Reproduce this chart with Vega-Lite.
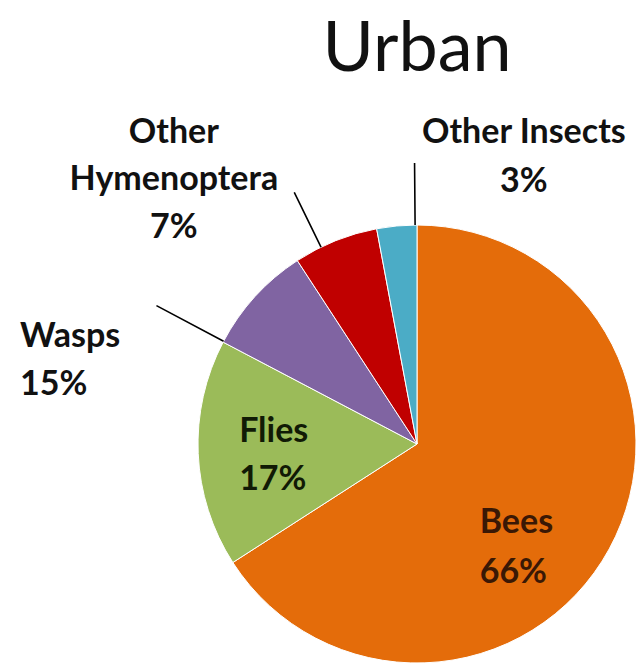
{
  "$schema": "https://vega.github.io/schema/vega-lite/v6.json",
  "width": 438,
  "height": 438,
  "autosize": "none",
  "padding": {"left": 198, "top": 225, "right": 3, "bottom": 7},
  "background": "white",
  "title": {"text": "Urban", "font": "Lato", "fontSize": 70, "fontWeight": "normal", "color": "#111111", "anchor": "middle", "frame": "group", "offset": 13},
  "data": {
    "values": [
      {"category": "Bees", "value": 65.9, "label": "Bees\n66%"},
      {"category": "Flies", "value": 16.8, "label": "Flies\n17%"},
      {"category": "Wasps", "value": 8.1, "label": "Wasps\n15%"},
      {"category": "Other Hymenoptera", "value": 6.25, "label": "Other\nHymenoptera\n7%"},
      {"category": "Other Insects", "value": 2.95, "label": "Other Insects\n3%"}
    ]
  },
  "encoding": {
    "theta": {"field": "value", "type": "quantitative", "stack": true},
    "order": {"field": "value", "type": "quantitative", "sort": "descending"}
  },
  "layer": [
    {
      "mark": {"type": "arc", "stroke": "white", "strokeWidth": 1},
      "encoding": {
        "color": {
          "field": "category",
          "type": "nominal",
          "scale": {
            "domain": ["Bees", "Flies", "Wasps", "Other Hymenoptera", "Other Insects"],
            "range": ["#E46C0A", "#9BBB59", "#8064A2", "#C00000", "#4BACC6"]
          },
          "legend": null
        }
      }
    },
    {
      "mark": {"type": "arc", "radius": 281, "radius2": 219, "padAngle": 3, "thetaOffset": 0.084, "theta2Offset": 0.084, "fillOpacity": 0, "stroke": "#000000", "strokeWidth": 1.6},
      "encoding": {"strokeOpacity": {"condition": {"test": "datum.category === 'Other Insects'", "value": 1}, "value": 0}}
    },
    {
      "mark": {"type": "arc", "radius": 280, "radius2": 219, "padAngle": 3, "thetaOffset": -0.072, "theta2Offset": -0.072, "fillOpacity": 0, "stroke": "#000000", "strokeWidth": 1.6},
      "encoding": {"strokeOpacity": {"condition": {"test": "datum.category === 'Other Hymenoptera'", "value": 1}, "value": 0}}
    },
    {
      "mark": {"type": "arc", "radius": 295, "radius2": 219, "padAngle": 3, "thetaOffset": -0.25, "theta2Offset": -0.25, "fillOpacity": 0, "stroke": "#000000", "strokeWidth": 1.6},
      "encoding": {"strokeOpacity": {"condition": {"test": "datum.category === 'Wasps'", "value": 1}, "value": 0}}
    },
    {
      "mark": {"type": "text", "radius": 150, "dx": -69, "dy": 17, "align": "left", "baseline": "alphabetic", "font": "Lato", "fontWeight": "bold", "fontSize": 34, "lineHeight": 50, "lineBreak": "\n", "color": "#3a1805"},
      "encoding": {"text": {"condition": {"test": "datum.category === 'Bees'", "field": "label", "type": "nominal"}, "value": ""}}
    },
    {
      "mark": {"type": "text", "radius": 150, "dx": -28, "dy": -9, "align": "left", "baseline": "alphabetic", "font": "Lato", "fontWeight": "bold", "fontSize": 34, "lineHeight": 48, "lineBreak": "\n", "color": "#111a05"},
      "encoding": {"text": {"condition": {"test": "datum.category === 'Flies'", "field": "label", "type": "nominal"}, "value": ""}}
    },
    {
      "mark": {"type": "text", "radius": 250, "dx": -212, "dy": 71, "align": "left", "baseline": "alphabetic", "font": "Lato", "fontWeight": "bold", "fontSize": 34, "lineHeight": 48, "lineBreak": "\n", "color": "#111111"},
      "encoding": {"text": {"condition": {"test": "datum.category === 'Wasps'", "field": "label", "type": "nominal"}, "value": ""}}
    },
    {
      "mark": {"type": "text", "radius": 250, "dx": -150, "dy": -69, "align": "center", "baseline": "alphabetic", "font": "Lato", "fontWeight": "bold", "fontSize": 34, "lineHeight": 47.5, "lineBreak": "\n", "color": "#111111"},
      "encoding": {"text": {"condition": {"test": "datum.category === 'Other Hymenoptera'", "field": "label", "type": "nominal"}, "value": ""}}
    },
    {
      "mark": {"type": "text", "radius": 250, "dx": 130, "dy": -52, "align": "center", "baseline": "alphabetic", "font": "Lato", "fontWeight": "bold", "fontSize": 34, "lineHeight": 48.5, "lineBreak": "\n", "color": "#111111"},
      "encoding": {"text": {"condition": {"test": "datum.category === 'Other Insects'", "field": "label", "type": "nominal"}, "value": ""}}
    }
  ],
  "config": {"view": {"stroke": null}}
}
